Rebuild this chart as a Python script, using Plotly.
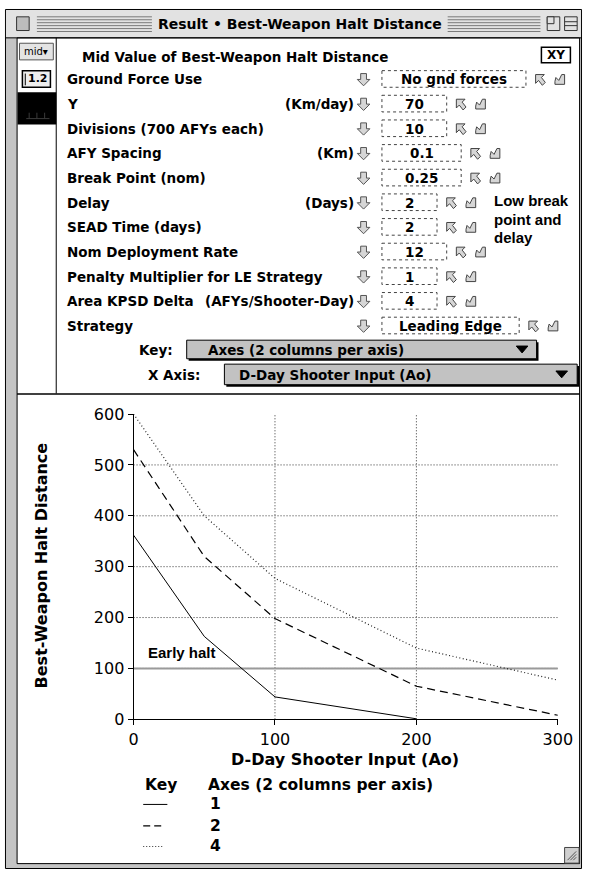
import plotly.graph_objects as go

W, H = 597, 879

# ---------------- data ----------------
ao_x = [0, 50, 100, 200, 300]
axes1_x = [0, 50, 100, 200]
axes1_y = [362, 163, 44, 1]
axes2_y = [530, 320, 198, 65, 8]
axes4_y = [600, 400, 277, 140, 77]
series_names = ["1", "2", "4"]
early_halt_x = [0, 300]
early_halt_y = [100, 100]
x_ticks = [0, 100, 200, 300]
y_ticks = [0, 100, 200, 300, 400, 500, 600]
x_grid = [100, 200]
y_grid = [100, 200, 300, 400, 500]

param_labels = ["Ground Force Use", "Y", "Divisions (700 AFYs each)", "AFY Spacing",
                "Break Point (nom)", "Delay", "SEAD Time (days)", "Nom Deployment Rate",
                "Penalty Multiplier for LE Strategy", "Area KPSD Delta", "Strategy"]
param_units = ["", "(Km/day)", "", "(Km)", "", "(Days)", "", "", "", "(AFYs/Shooter-Day)", ""]
param_values = ["No gnd forces", "70", "10", "0.1", "0.25", "2", "2", "12", "1", "4", "Leading Edge"]

# ---------------- layout helpers (pixel -> paper) ----------------
def X(x):
    return x / W

def Y(y):
    return 1 - y / H

shapes = []
annotations = []

def rect(x0, y0, x1, y1, fill=None, color="black", width=1, dash=None, layer="below"):
    d = dict(type="rect", xref="paper", yref="paper", x0=X(x0), x1=X(x1), y0=Y(y0), y1=Y(y1),
             line=dict(color=color, width=width), layer=layer)
    if dash:
        d["line"]["dash"] = dash
    if fill:
        d["fillcolor"] = fill
    if width == 0:
        d["line"] = dict(width=0)
    shapes.append(d)

def seg(x0, y0, x1, y1, color="black", width=1, dash=None, layer="below"):
    d = dict(type="line", xref="paper", yref="paper", x0=X(x0), x1=X(x1), y0=Y(y0), y1=Y(y1),
             line=dict(color=color, width=width), layer=layer)
    if dash:
        d["line"]["dash"] = dash
    shapes.append(d)

def poly(pts, fill="#cccccc", color="black", width=1, layer="below"):
    p = "M " + " L ".join(f"{X(a):.5f},{Y(b):.5f}" for a, b in pts) + " Z"
    shapes.append(dict(type="path", xref="paper", yref="paper", path=p, fillcolor=fill,
                       line=dict(color=color, width=width), layer=layer))

def text(x, y, s, size=13.5, anchor="left", family="DejaVu Sans", color="black", bold=True, angle=0):
    annotations.append(dict(xref="paper", yref="paper", x=X(x), y=Y(y),
                            text=(f"<b>{s}</b>" if bold else s), showarrow=False,
                            xanchor=anchor, yanchor="middle", textangle=angle,
                            font=dict(family=family, size=size, color=color)))

# ---------------- window chrome ----------------
rect(0.5, 0.5, 596.5, 878.5, fill="#c4c4c4", color="black")
rect(1, 1, 596, 29, fill="#e2e2e2", width=0)
rect(12.5, 29.5, 594.5, 873.5, fill="white", color="black")
seg(1, 29.5, 596, 29.5, color="black")
# title stripes
for sy in [8, 11, 14, 17, 20, 23]:
    seg(33, sy, 152, sy, color="#7a7a7a")
    seg(458, sy, 554, sy, color="#7a7a7a")
# close box and zoom boxes
rect(12, 8, 25, 22, fill="#bdbdbd", color="#333")
rect(561, 8, 574, 22, fill="#e2e2e2", color="#333")
rect(561, 8, 568, 15, fill="#e2e2e2", color="#333")
rect(579, 8, 592, 22, fill="#e2e2e2", color="#333")
seg(579, 13, 592, 13, color="#333")
seg(579, 17, 592, 17, color="#333")
text(305, 15.5, "Result • Best-Weapon Halt Distance", size=14, anchor="center")

# left tool column
seg(53, 29.5, 53, 393, color="black")
rect(15, 35, 50, 52, fill="#e4e4e4", color="#555")
text(32, 43.5, "mid▾", size=10, anchor="center", bold=False)
rect(18, 63, 47, 80, fill="#eeeeee", color="black", width=1.5)
seg(21, 66, 21, 78, color="black", width=1)
text(34, 71.5, "1.2", size=11, anchor="center")
rect(13, 85, 53, 118, fill="black", width=0)
for bx in [25, 33, 41]:
    seg(bx, 106, bx, 112, color="#3a3a3a")
seg(22, 112, 46, 112, color="#3a3a3a")

# header row
text(78, 49, "Mid Value of Best-Weapon Halt Distance")
rect(555, 39, 585, 55, fill="white", color="black", width=1.5)
text(570, 47, "XY", size=12, anchor="center")

# parameter rows
row_y0, row_dy = 72, 25.2
box_right = [539, 457, 457, 472, 472, 447, 447, 457, 447, 447, 532]

def down_arrow(cx, cy):
    poly([(cx - 3, cy - 6), (cx + 3, cy - 6), (cx + 3, cy), (cx + 6.5, cy), (cx, cy + 6.5),
          (cx - 6.5, cy), (cx - 3, cy)], fill="#d6d6d6", color="#555", width=1)

def icon_left(x, cy):
    poly([(x, cy - 5), (x + 9, cy - 5), (x + 6, cy - 2), (x + 10, cy + 3), (x + 7, cy + 6),
          (x + 3, cy + 1), (x, cy + 4)], fill="#d6d6d6", color="#444", width=1)

def icon_right(x, cy):
    poly([(x + 1, cy - 2), (x + 4, cy + 1), (x + 7, cy - 5), (x + 10, cy - 5), (x + 10, cy + 5),
          (x, cy + 5), (x, cy + 2)], fill="#d6d6d6", color="#444", width=1)

for i, (lab, unit, val) in enumerate(zip(param_labels, param_units, param_values)):
    cy = row_y0 + i * row_dy
    text(62, cy, lab)
    if unit:
        text(363, cy, unit, anchor="right")
    down_arrow(371, cy)
    br = box_right[i]
    rect(390, cy - 9, br, cy + 8, color="#444", width=1, dash="dot")
    text((390 + br) / 2, cy, val, anchor="center")
    icon_left(br + 10, cy)
    icon_right(br + 30, cy)

# side note
text(504, 196, "Low break", size=15, family="Liberation Sans")
text(504, 215, "point and", size=15, family="Liberation Sans")
text(504, 234, "delay", size=15, family="Liberation Sans")

# Key / X Axis dropdowns
key_y, xax_y = 348.5, 374
text(176, key_y, "Key:", anchor="right")
rect(190, key_y - 8, 552, key_y + 11, fill="black", width=0)
rect(188, key_y - 10, 550, key_y + 9, fill="#c2c2c2", color="black")
text(208, key_y, "Axes (2 columns per axis)")
poly([(529, key_y - 4), (541, key_y - 4), (535, key_y + 3)], fill="black", color="black")

text(204, xax_y, "X Axis:", anchor="right")
rect(229, xax_y - 9, 594, xax_y + 12, fill="black", width=0)
rect(227, xax_y - 11, 592, xax_y + 10, fill="#c2c2c2", color="black")
text(240, xax_y, "D-Day Shooter Input (Ao)")
poly([(570, xax_y - 4), (582, xax_y - 4), (576, xax_y + 3)], fill="black", color="black")

seg(12.5, 393.5, 594.5, 393.5, color="black", width=1.5)

# grow box
rect(579, 857, 594, 873, fill="#cfcfcf", color="#444")
for k in range(3):
    seg(582 + 3 * k, 870, 591, 861 + 3 * k, color="#555")

# ---------------- plot ----------------
fig = go.Figure()

for v in x_grid:
    shapes.append(dict(type="line", xref="x", yref="y", x0=v, x1=v, y0=0, y1=600,
                       line=dict(color="#333", width=1, dash="1px,2px"), layer="below"))
for v in y_grid:
    shapes.append(dict(type="line", xref="x", yref="y", x0=0, x1=300, y0=v, y1=v,
                       line=dict(color="#333", width=1, dash="1px,2px"), layer="below"))

fig.add_trace(go.Scatter(x=early_halt_x, y=early_halt_y, mode="lines",
                         line=dict(color="#9a9a9a", width=2), showlegend=False, hoverinfo="skip"))
fig.add_trace(go.Scatter(x=axes1_x, y=axes1_y, mode="lines", name=series_names[0],
                         line=dict(color="black", width=1), showlegend=False))
fig.add_trace(go.Scatter(x=ao_x, y=axes2_y, mode="lines", name=series_names[1],
                         line=dict(color="black", width=1.2, dash="8px,5px"), showlegend=False))
fig.add_trace(go.Scatter(x=ao_x, y=axes4_y, mode="lines", name=series_names[2],
                         line=dict(color="#222", width=1.2, dash="1px,2.5px"), showlegend=False))

text(146, 658, "Early halt", size=15, family="Liberation Sans")

text(352, 767, "D-Day Shooter Input (Ao)", size=16, anchor="center")
text(38, 569, "Best-Weapon Halt Distance", size=16, anchor="center", angle=-90)

text(143, 793, "Key", size=15.5)
text(208, 793, "Axes (2 columns per axis)", size=15.5)
leg_y = [813, 835, 856]
seg(143, leg_y[0], 168, leg_y[0], color="black", width=1)
seg(143, leg_y[1], 165, leg_y[1], color="black", width=1.2, dash="7px,4px")
seg(143, leg_y[2], 163, leg_y[2], color="#333", width=1.2, dash="1px,2px")
for yy, nm in zip(leg_y, series_names):
    text(210, yy, nm, size=15.5)

fig.update_layout(
    width=W, height=H,
    margin=dict(l=0, r=0, t=0, b=0),
    paper_bgcolor="white", plot_bgcolor="rgba(0,0,0,0)",
    shapes=shapes, annotations=annotations,
    showlegend=False,
    xaxis=dict(domain=[133 / W, 572 / W], range=[0, 300], tickvals=x_ticks,
               showgrid=False, zeroline=False, showline=True, linecolor="black", linewidth=1,
               ticks="outside", ticklen=5, tickcolor="black",
               tickfont=dict(family="DejaVu Sans", size=16, color="black"),
               tickprefix="<b>", ticksuffix="</b>", fixedrange=True),
    yaxis=dict(domain=[1 - 726 / H, 1 - 414 / H], range=[0, 600], tickvals=y_ticks,
               showgrid=False, zeroline=False, showline=True, linecolor="black", linewidth=1,
               ticks="outside", ticklen=5, tickcolor="black",
               tickfont=dict(family="DejaVu Sans", size=16, color="black"),
               tickprefix="<b>", ticksuffix="</b>", fixedrange=True),
)

fig.write_html("out.html", config={"displayModeBar": False},
               post_script="document.body.style.margin='0';document.body.style.overflow='hidden';")
